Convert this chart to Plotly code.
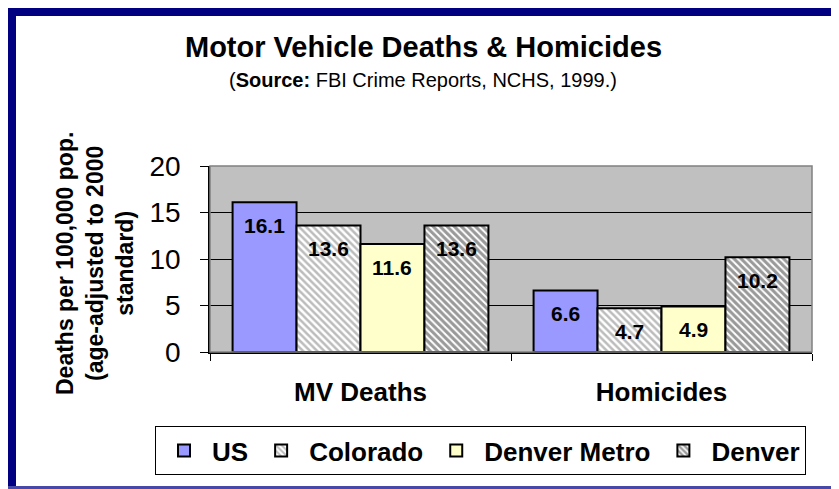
import plotly.graph_objects as go

categories = ["MV Deaths", "Homicides"]
series = ["US", "Colorado", "Denver Metro", "Denver"]
us = [16.1, 6.6]
colorado = [13.6, 4.7]
denver_metro = [11.6, 4.9]
denver = [13.6, 10.2]
y_ticks = [0, 5, 10, 15, 20]

FONT = "Arial, Liberation Sans, sans-serif"
OFF = 8  # page body margin
W, H = 839 - OFF, 489 - OFF
L, R, T, B = 210 - OFF, 27, 166 - OFF, 137
PW, PH = W - L - R, H - T - B
BARGAP = 0.15


# convert screen pixel positions (of the reference) to paper coordinates
def px_x(p):
    return (p - OFF - L) / PW


def px_y(p):
    return (H - B - (p - OFF)) / PH


styles = {
    "US": dict(color="#9999FF"),
    "Colorado": dict(color="white", pattern=dict(shape="\\", fgcolor="#7a7a7a", bgcolor="white", size=5, solidity=0.5)),
    "Denver Metro": dict(color="#FFFFCC"),
    "Denver": dict(color="white", pattern=dict(shape="\\", fgcolor="#333333", bgcolor="white", size=5, solidity=0.6)),
}
values = {"US": us, "Colorado": colorado, "Denver Metro": denver_metro, "Denver": denver}

fig = go.Figure()
for s in series:
    fig.add_trace(go.Bar(x=categories, y=values[s], name=s,
                         marker=dict(line=dict(color="black", width=2), **styles[s])))

# data labels near the top of each bar
bar_w = PW / len(categories) * (1 - BARGAP) / len(series)
annotations = []
for i, s in enumerate(series):
    for c, v in zip(categories, values[s]):
        annotations.append(dict(x=c, y=v, xref="x", yref="y", text="<b>%s</b>" % v,
                                showarrow=False, xshift=(i - 1.5) * bar_w, yshift=-23,
                                yanchor="middle", font=dict(family=FONT, size=21, color="black")))

annotations += [
    dict(x=px_x(423), y=px_y(47), xref="paper", yref="paper", showarrow=False,
         xanchor="center", yanchor="middle",
         text="<b>Motor Vehicle Deaths & Homicides</b>", font=dict(family=FONT, size=29, color="black")),
    dict(x=px_x(423), y=px_y(80), xref="paper", yref="paper", showarrow=False,
         xanchor="center", yanchor="middle",
         text="(<b>Source:</b> FBI Crime Reports, NCHS, 1999.)", font=dict(family=FONT, size=20, color="black")),
    dict(x=px_x(95), y=px_y(264), xref="paper", yref="paper", showarrow=False, textangle=-90,
         xanchor="center", yanchor="middle",
         text="<b>Deaths per 100,000 pop.<br>(age-adjusted to 2000<br>standard)</b>",
         font=dict(family=FONT, size=23, color="black")),
]

shapes = [
    # plot area frame
    dict(type="rect", xref="paper", yref="paper", x0=0, x1=1, y0=0, y1=1,
         line=dict(color="#808080", width=1.5)),
    # navy outer border (top, left) and thin bottom line
    dict(type="rect", xref="paper", yref="paper", x0=px_x(0), x1=px_x(16), y0=px_y(495), y1=px_y(7),
         fillcolor="#000080", line=dict(width=0), layer="above"),
    dict(type="rect", xref="paper", yref="paper", x0=px_x(7), x1=px_x(845), y0=px_y(16), y1=px_y(7),
         fillcolor="#000080", line=dict(width=0), layer="above"),
    dict(type="rect", xref="paper", yref="paper", x0=px_x(7), x1=px_x(845), y0=px_y(489), y1=px_y(486),
         fillcolor="#4848A8", line=dict(width=0), layer="above"),
]

fig.update_layout(
    width=W, height=H,
    margin=dict(l=L, r=R, t=T, b=B),
    paper_bgcolor="white", plot_bgcolor="#C0C0C0",
    barmode="group", bargap=BARGAP, bargroupgap=0,
    font=dict(family=FONT, color="black"),
    annotations=annotations, shapes=shapes,
    legend=dict(orientation="h", x=px_x(155), y=px_y(426), xanchor="left", yanchor="top",
                bgcolor="white", bordercolor="black", borderwidth=1, itemwidth=46,
                font=dict(family=FONT, size=26, color="black", weight="bold"),
                traceorder="normal"),
    showlegend=True,
)
fig.update_yaxes(range=[0, 20], tickvals=y_ticks, showgrid=True, gridcolor="black", gridwidth=1,
                 showline=True, linecolor="black", linewidth=1.5, ticks="outside", ticklen=8,
                 tickcolor="black", ticklabelstandoff=14, tickfont=dict(family=FONT, size=28),
                 zeroline=False)
fig.update_xaxes(showline=True, linecolor="black", linewidth=1.5, ticks="outside", ticklen=7,
                 tickson="boundaries", tickcolor="black", ticklabelstandoff=16,
                 tickfont=dict(family=FONT, size=26, weight="bold"))

fig.write_html("out.html")
